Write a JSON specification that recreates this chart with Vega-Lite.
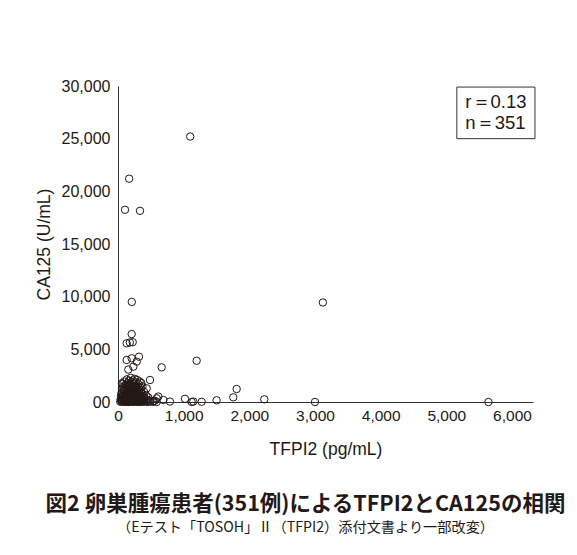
{
  "$schema": "https://vega.github.io/schema/vega-lite/v6.json",
  "width": 415,
  "height": 316,
  "autosize": {"type": "none"},
  "padding": {"left": 118, "top": 86, "right": 44, "bottom": 153},
  "background": "white",
  "config": {
    "view": {"stroke": null},
    "font": "Liberation Sans",
    "axis": {"grid": false, "ticks": false, "domainColor": "#333333", "domainWidth": 1, "labelColor": "#231815", "titleColor": "#231815", "labelFont": "Liberation Sans", "titleFont": "Liberation Sans", "titleFontWeight": "normal"}
  },
  "title": {
    "text": "図2 卵巣腫瘍患者(351例)によるTFPI2とCA125の相関",
    "subtitle": "（Eテスト「TOSOH」Ⅱ（TFPI2）添付文書より一部改変）",
    "orient": "bottom",
    "anchor": "middle",
    "frame": "group",
    "dx": -20,
    "offset": 36,
    "font": "Noto Sans CJK JP",
    "fontSize": 21.5,
    "fontWeight": "bold",
    "color": "#231815",
    "subtitleFont": "Noto Sans CJK JP",
    "subtitleFontSize": 14.2,
    "subtitleFontWeight": "normal",
    "subtitleColor": "#231815",
    "subtitlePadding": 5
  },
  "layer": [
    {
      "data": {"values": [
        {"tfpi2": 1100, "ca125": 25200}, {"tfpi2": 170, "ca125": 21200}, {"tfpi2": 107, "ca125": 18250}, {"tfpi2": 335, "ca125": 18150},
        {"tfpi2": 210, "ca125": 9500}, {"tfpi2": 3120, "ca125": 9450}, {"tfpi2": 208, "ca125": 6450}, {"tfpi2": 132, "ca125": 5570},
        {"tfpi2": 180, "ca125": 5650}, {"tfpi2": 224, "ca125": 5680}, {"tfpi2": 132, "ca125": 3990}, {"tfpi2": 208, "ca125": 4150},
        {"tfpi2": 320, "ca125": 4300}, {"tfpi2": 285, "ca125": 3830}, {"tfpi2": 233, "ca125": 3350}, {"tfpi2": 157, "ca125": 3080},
        {"tfpi2": 665, "ca125": 3290}, {"tfpi2": 1198, "ca125": 3920}, {"tfpi2": 487, "ca125": 2090}, {"tfpi2": 60, "ca125": 1775},
        {"tfpi2": 437, "ca125": 1300}, {"tfpi2": 1807, "ca125": 1234}, {"tfpi2": 1756, "ca125": 446}, {"tfpi2": 2228, "ca125": 256},
        {"tfpi2": 3000, "ca125": 0}, {"tfpi2": 5642, "ca125": 0}, {"tfpi2": 1502, "ca125": 160}, {"tfpi2": 1274, "ca125": 20},
        {"tfpi2": 1147, "ca125": 40}, {"tfpi2": 1122, "ca125": 0}, {"tfpi2": 1020, "ca125": 300}, {"tfpi2": 791, "ca125": 40},
        {"tfpi2": 589, "ca125": 0}, {"tfpi2": 589, "ca125": 350}, {"tfpi2": 690, "ca125": 190}, {"tfpi2": 614, "ca125": 520},
        {"tfpi2": 462, "ca125": 430}, {"tfpi2": 540, "ca125": 80},
        {"tfpi2": 35, "ca125": 20}, {"tfpi2": 52, "ca125": 60}, {"tfpi2": 68, "ca125": 10}, {"tfpi2": 80, "ca125": 110},
        {"tfpi2": 95, "ca125": 35}, {"tfpi2": 110, "ca125": 80}, {"tfpi2": 122, "ca125": 15}, {"tfpi2": 138, "ca125": 140},
        {"tfpi2": 150, "ca125": 50}, {"tfpi2": 165, "ca125": 5}, {"tfpi2": 178, "ca125": 95}, {"tfpi2": 190, "ca125": 30},
        {"tfpi2": 205, "ca125": 120}, {"tfpi2": 218, "ca125": 45}, {"tfpi2": 230, "ca125": 10}, {"tfpi2": 245, "ca125": 70},
        {"tfpi2": 258, "ca125": 130}, {"tfpi2": 270, "ca125": 25}, {"tfpi2": 285, "ca125": 90}, {"tfpi2": 300, "ca125": 40},
        {"tfpi2": 315, "ca125": 5}, {"tfpi2": 330, "ca125": 100}, {"tfpi2": 345, "ca125": 55}, {"tfpi2": 362, "ca125": 15},
        {"tfpi2": 380, "ca125": 85}, {"tfpi2": 400, "ca125": 30}, {"tfpi2": 425, "ca125": 60}, {"tfpi2": 455, "ca125": 10},
        {"tfpi2": 490, "ca125": 40}, {"tfpi2": 530, "ca125": 20}, {"tfpi2": 560, "ca125": 120},
        {"tfpi2": 40, "ca125": 250}, {"tfpi2": 58, "ca125": 180}, {"tfpi2": 72, "ca125": 320}, {"tfpi2": 88, "ca125": 210},
        {"tfpi2": 100, "ca125": 390}, {"tfpi2": 115, "ca125": 270}, {"tfpi2": 128, "ca125": 160}, {"tfpi2": 142, "ca125": 350},
        {"tfpi2": 155, "ca125": 230}, {"tfpi2": 170, "ca125": 300}, {"tfpi2": 185, "ca125": 190}, {"tfpi2": 198, "ca125": 380},
        {"tfpi2": 212, "ca125": 260}, {"tfpi2": 225, "ca125": 170}, {"tfpi2": 240, "ca125": 340}, {"tfpi2": 252, "ca125": 220},
        {"tfpi2": 268, "ca125": 290}, {"tfpi2": 280, "ca125": 180}, {"tfpi2": 295, "ca125": 360}, {"tfpi2": 310, "ca125": 240},
        {"tfpi2": 325, "ca125": 300}, {"tfpi2": 340, "ca125": 200}, {"tfpi2": 355, "ca125": 350}, {"tfpi2": 372, "ca125": 260},
        {"tfpi2": 390, "ca125": 190}, {"tfpi2": 410, "ca125": 320}, {"tfpi2": 440, "ca125": 230}, {"tfpi2": 470, "ca125": 170},
        {"tfpi2": 45, "ca125": 520}, {"tfpi2": 62, "ca125": 450}, {"tfpi2": 76, "ca125": 620}, {"tfpi2": 90, "ca125": 480},
        {"tfpi2": 104, "ca125": 580}, {"tfpi2": 118, "ca125": 430}, {"tfpi2": 132, "ca125": 650}, {"tfpi2": 146, "ca125": 510},
        {"tfpi2": 160, "ca125": 600}, {"tfpi2": 174, "ca125": 440}, {"tfpi2": 188, "ca125": 560}, {"tfpi2": 202, "ca125": 680},
        {"tfpi2": 216, "ca125": 470}, {"tfpi2": 230, "ca125": 590}, {"tfpi2": 244, "ca125": 420}, {"tfpi2": 258, "ca125": 640},
        {"tfpi2": 272, "ca125": 500}, {"tfpi2": 288, "ca125": 570}, {"tfpi2": 305, "ca125": 450}, {"tfpi2": 320, "ca125": 620},
        {"tfpi2": 338, "ca125": 490}, {"tfpi2": 356, "ca125": 560}, {"tfpi2": 375, "ca125": 430}, {"tfpi2": 398, "ca125": 520},
        {"tfpi2": 430, "ca125": 610},
        {"tfpi2": 50, "ca125": 800}, {"tfpi2": 66, "ca125": 950}, {"tfpi2": 82, "ca125": 740}, {"tfpi2": 96, "ca125": 1050},
        {"tfpi2": 110, "ca125": 860}, {"tfpi2": 124, "ca125": 720}, {"tfpi2": 138, "ca125": 980}, {"tfpi2": 152, "ca125": 820},
        {"tfpi2": 166, "ca125": 1080}, {"tfpi2": 180, "ca125": 760}, {"tfpi2": 194, "ca125": 920}, {"tfpi2": 208, "ca125": 1000},
        {"tfpi2": 222, "ca125": 780}, {"tfpi2": 236, "ca125": 880}, {"tfpi2": 250, "ca125": 1060}, {"tfpi2": 266, "ca125": 730},
        {"tfpi2": 282, "ca125": 940}, {"tfpi2": 298, "ca125": 820}, {"tfpi2": 316, "ca125": 1020}, {"tfpi2": 334, "ca125": 760},
        {"tfpi2": 352, "ca125": 900}, {"tfpi2": 370, "ca125": 800}, {"tfpi2": 395, "ca125": 980},
        {"tfpi2": 60, "ca125": 1250}, {"tfpi2": 78, "ca125": 1450}, {"tfpi2": 94, "ca125": 1150}, {"tfpi2": 108, "ca125": 1350},
        {"tfpi2": 122, "ca125": 1550}, {"tfpi2": 136, "ca125": 1200}, {"tfpi2": 150, "ca125": 1400}, {"tfpi2": 164, "ca125": 1500},
        {"tfpi2": 178, "ca125": 1180}, {"tfpi2": 192, "ca125": 1320}, {"tfpi2": 206, "ca125": 1580}, {"tfpi2": 220, "ca125": 1250},
        {"tfpi2": 234, "ca125": 1450}, {"tfpi2": 248, "ca125": 1120}, {"tfpi2": 262, "ca125": 1380}, {"tfpi2": 278, "ca125": 1520},
        {"tfpi2": 295, "ca125": 1230}, {"tfpi2": 312, "ca125": 1420}, {"tfpi2": 330, "ca125": 1160}, {"tfpi2": 350, "ca125": 1350},
        {"tfpi2": 372, "ca125": 1480},
        {"tfpi2": 70, "ca125": 1700}, {"tfpi2": 95, "ca125": 1950}, {"tfpi2": 118, "ca125": 1650}, {"tfpi2": 135, "ca125": 2150},
        {"tfpi2": 150, "ca125": 1800}, {"tfpi2": 165, "ca125": 2000}, {"tfpi2": 180, "ca125": 1700}, {"tfpi2": 195, "ca125": 2300},
        {"tfpi2": 210, "ca125": 1900}, {"tfpi2": 225, "ca125": 2050}, {"tfpi2": 240, "ca125": 1750}, {"tfpi2": 255, "ca125": 2200},
        {"tfpi2": 270, "ca125": 1850}, {"tfpi2": 290, "ca125": 2100}, {"tfpi2": 310, "ca125": 1700}, {"tfpi2": 330, "ca125": 1950},
        {"tfpi2": 355, "ca125": 1800}
      ]},
      "mark": {"type": "point", "shape": "circle", "filled": false, "size": 55, "stroke": "#231815", "strokeWidth": 1, "opacity": 1},
      "encoding": {
        "x": {
          "field": "tfpi2", "type": "quantitative",
          "scale": {"domain": [0, 6320], "nice": false, "zero": true},
          "axis": {"title": "TFPI2 (pg/mL)", "values": [0, 1000, 2000, 3000, 4000, 5000, 6000], "labelExpr": "format(datum.value, ',')", "labelFontSize": 15.5, "titleFontSize": 17.5, "labelPadding": 6, "titlePadding": 17, "labelFlush": false}
        },
        "y": {
          "field": "ca125", "type": "quantitative",
          "scale": {"domain": [0, 30000], "nice": false},
          "axis": {"title": "CA125 (U/mL)", "values": [0, 5000, 10000, 15000, 20000, 25000, 30000], "labelExpr": "datum.value == 0 ? '00' : format(datum.value, ',')", "labelFontSize": 16, "titleFontSize": 17.5, "labelPadding": 8, "titlePadding": 8, "labelFlush": false}
        }
      }
    },
    {
      "data": {"values": [{"r": "r＝0.13", "n": "n＝351"}]},
      "mark": {"type": "rect", "fill": "white", "stroke": "#333333", "strokeWidth": 1},
      "encoding": {
        "x": {"datum": 5160, "type": "quantitative"},
        "x2": {"datum": 6350},
        "y": {"datum": 29900, "type": "quantitative"},
        "y2": {"datum": 25000}
      }
    },
    {
      "data": {"values": [{"r": "r＝0.13", "n": "n＝351"}]},
      "mark": {"type": "text", "align": "left", "baseline": "middle", "fontSize": 18.5, "fontWeight": "normal", "color": "#231815", "font": "Liberation Sans"},
      "encoding": {
        "text": {"field": "r", "type": "nominal"},
        "x": {"datum": 5290, "type": "quantitative"},
        "y": {"datum": 28480, "type": "quantitative"}
      }
    },
    {
      "data": {"values": [{"r": "r＝0.13", "n": "n＝351"}]},
      "mark": {"type": "text", "align": "left", "baseline": "middle", "fontSize": 18.5, "fontWeight": "normal", "color": "#231815", "font": "Liberation Sans"},
      "encoding": {
        "text": {"field": "n", "type": "nominal"},
        "x": {"datum": 5290, "type": "quantitative"},
        "y": {"datum": 26490, "type": "quantitative"}
      }
    }
  ]
}
